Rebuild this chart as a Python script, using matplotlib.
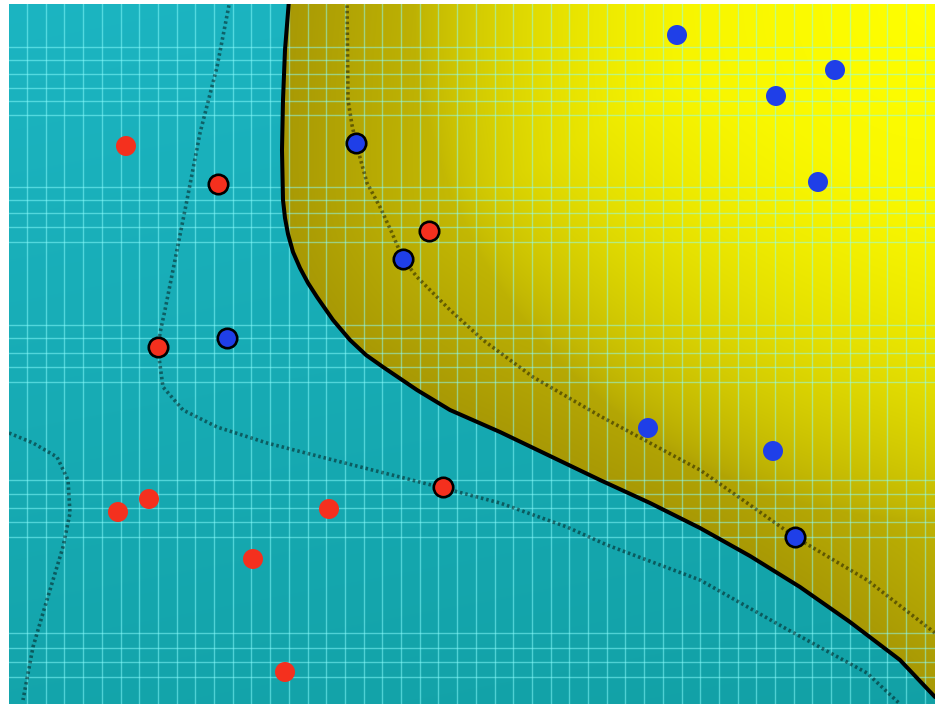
import numpy as np
import matplotlib
matplotlib.use('Agg')
import matplotlib.pyplot as plt
from matplotlib.path import Path
from matplotlib.patches import PathPatch

# ---- data (image coordinates, y downward) ----
red_x = [126, 118, 149, 253, 329, 285, 218, 158, 429, 443]
red_y = [146, 512, 499, 559, 509, 672, 184, 347, 231, 487]
red_sv = [0, 0, 0, 0, 0, 0, 1, 1, 1, 1]

blue_x = [677, 776, 835, 818, 648, 773, 356, 403, 227, 795]
blue_y = [35, 96, 70, 182, 428, 451, 143, 259, 338, 537]
blue_sv = [0, 0, 0, 0, 0, 0, 1, 1, 1, 1]

boundary_x = [289, 285, 283, 282, 283, 285, 288, 293, 300, 308, 317, 333, 350, 366, 383,
              417, 450, 500, 550, 600, 650, 700, 750, 800, 850, 900, 935]
boundary_y = [0, 50, 100, 150, 200, 218, 234, 252, 268, 283, 297, 320, 340, 355, 367,
              390, 410, 432, 456, 480, 503, 528, 556, 587, 622, 660, 697]

margin_pos_x = [347, 348, 352, 356, 367, 380, 392, 403, 417, 450, 483, 533, 600, 650,
                700, 750, 795, 867, 935]
margin_pos_y = [0, 100, 125, 143, 183, 207, 233, 259, 277, 310, 340, 377, 416, 443,
                470, 505, 537, 580, 633]

margin_neg_x = [230, 217, 200, 187, 175, 165, 160, 158, 163, 183, 217, 267, 333, 400,
                443, 500, 567, 607, 700, 783, 867, 900]
margin_neg_y = [0, 67, 133, 200, 260, 310, 333, 350, 387, 410, 427, 443, 460, 477,
                488, 503, 527, 545, 580, 627, 673, 704]

margin_neg2_x = [9, 33, 57, 68, 70, 63, 53, 43, 33, 23]
margin_neg2_y = [433, 443, 457, 480, 513, 547, 580, 613, 647, 700]

grid_h = [47, 60, 74, 88, 101, 115, 187, 200, 213, 227, 242,
          325, 338, 353, 367, 382, 480, 494, 508, 522, 537, 633, 648, 662, 677]

# ---- figure ----
W, H = 935, 704
fig = plt.figure(figsize=(W / 100, H / 100), dpi=100)
fig.patch.set_facecolor('white')
ax = fig.add_axes([9 / W, 0, (W - 9) / W, 700 / H])
x0, x1, y0, y1 = 9, 935, 704, 4
ax.set_xlim(x0, x1)
ax.set_ylim(y0, y1)
ax.axis('off')

# background gradients
gx = np.linspace(x0, x1, 470)
gy = np.linspace(y1, y0, 360)
XX, YY = np.meshgrid(gx, gy)

cy_top = np.array([0.11, 0.71, 0.76])
cy_bot = np.array([0.07, 0.63, 0.65])
t = np.clip(0.8 * YY / 704 + 0.2 * XX / 935, 0, 1)[..., None]
cyan_img = cy_top * (1 - t) + cy_bot * t
ax.imshow(cyan_img, extent=(x0, x1, y0, y1), origin='upper', aspect='auto',
          zorder=0, interpolation='bilinear')

# distance of each background pixel to the decision boundary (for shading)
bx = np.array(boundary_x, float); by = np.array(boundary_y, float)
dist = np.full(XX.shape, np.inf)
for i in range(len(bx) - 1):
    ax_, ay_, bx_, by_ = bx[i], by[i], bx[i + 1], by[i + 1]
    vx, vy = bx_ - ax_, by_ - ay_
    L2 = vx * vx + vy * vy
    u = np.clip(((XX - ax_) * vx + (YY - ay_) * vy) / L2, 0, 1)
    dd = np.hypot(XX - (ax_ + u * vx), YY - (ay_ + u * vy))
    dist = np.minimum(dist, dd)
tb = np.clip(dist / 400, 0, 1)
yel_d = np.array([0.66, 0.60, 0.02])
yel_m = np.array([0.92, 0.90, 0.0])
yel_img = yel_d * (1 - tb[..., None]) + yel_m * tb[..., None]
dc = np.hypot(XX - 935, YY - 0)
sc = (np.clip(1 - dc / 520, 0, 1) ** 0.7)[..., None]
yel_img = yel_img * (1 - sc) + np.array([1.0, 1.0, 0.0]) * sc
im = ax.imshow(yel_img, extent=(x0, x1, y0, y1), origin='upper', aspect='auto',
               zorder=1, interpolation='bilinear')
verts = list(zip(boundary_x, boundary_y)) + [(960, 720), (960, -20), (boundary_x[0], -20)]
clip = PathPatch(Path(verts), transform=ax.transData, facecolor='none', edgecolor='none')
ax.add_patch(clip)
im.set_clip_path(clip)

# grid
gcol = '#8cffff'
for gxv in np.arange(27, 935, 18.7):
    ax.axvline(gxv, color=gcol, alpha=0.5, lw=1.0, zorder=2)
for gyv in grid_h:
    ax.axhline(gyv, color=gcol, alpha=0.5, lw=1.0, zorder=2)

# margins and boundary
dot = (0, (0.7, 0.8))
for mx, my in [(margin_pos_x, margin_pos_y), (margin_neg_x, margin_neg_y),
               (margin_neg2_x, margin_neg2_y)]:
    ax.plot(mx, my, color='black', alpha=0.45, lw=2.6, linestyle=dot, zorder=3)
ax.plot(boundary_x, boundary_y, color='black', lw=2.9, zorder=4,
        solid_capstyle='round', solid_joinstyle='round')

# points
red_c = '#f4301e'
blue_c = '#1f3fe8'
for xs, ys, sv, c in [(red_x, red_y, red_sv, red_c), (blue_x, blue_y, blue_sv, blue_c)]:
    xs = np.array(xs); ys = np.array(ys); sv = np.array(sv, bool)
    ax.scatter(xs[~sv], ys[~sv], s=14.4 ** 2, color=c, edgecolors='none', zorder=5)
    ax.scatter(xs[sv], ys[sv], s=14.0 ** 2, color=c, edgecolors='black',
               linewidths=1.9, zorder=5)

fig.savefig('out.png', dpi=100, facecolor='white')
